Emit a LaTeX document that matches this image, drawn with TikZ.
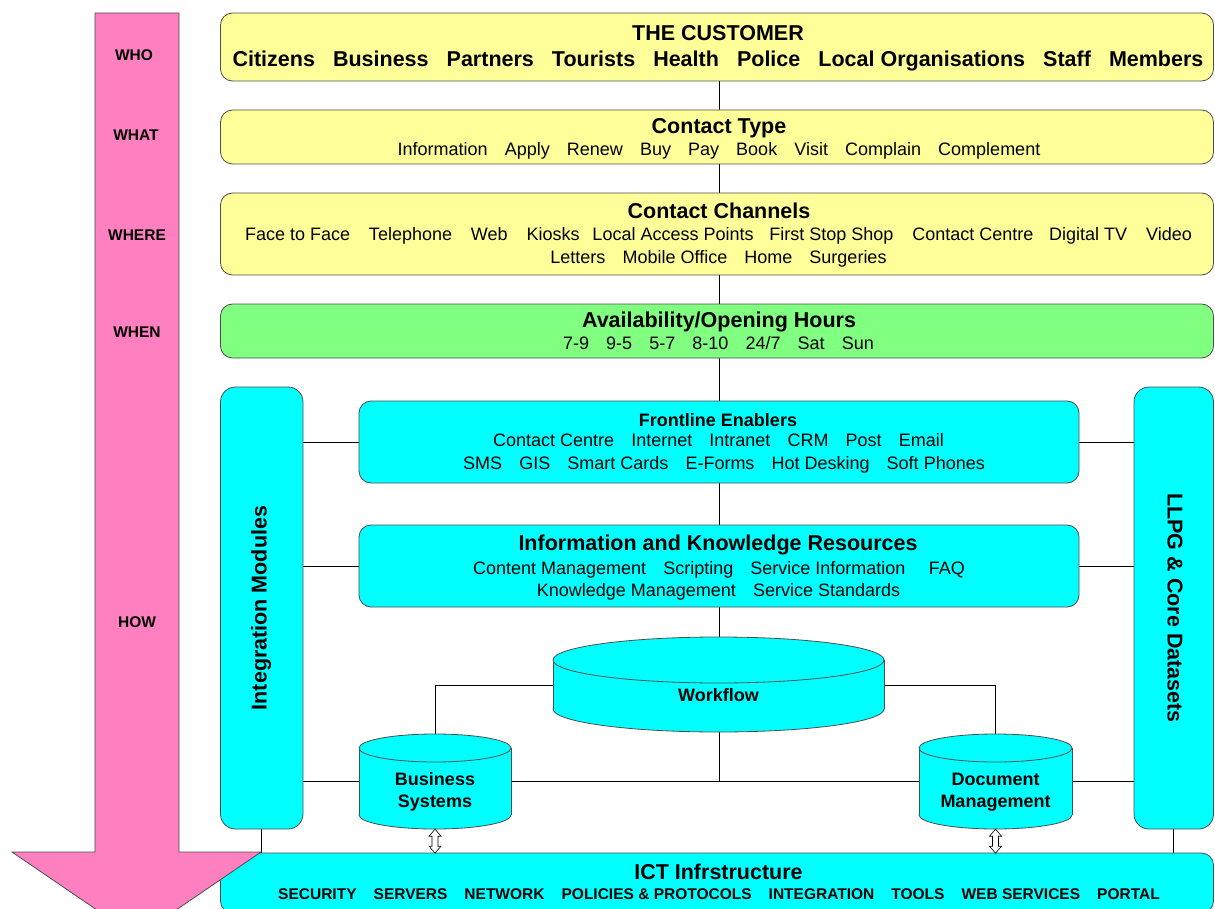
\documentclass[tikz,border=0pt]{standalone}
\usepackage{fontspec}
\setmainfont{Liberation Sans}
\usetikzlibrary{calc}
\pgfdeclarelayer{bg}
\pgfsetlayers{bg,main}
\definecolor{custyellow}{HTML}{FFFF99}
\definecolor{hoursgreen}{HTML}{80FF80}
\definecolor{ictcyan}{HTML}{00FFFF}
\definecolor{flowpink}{HTML}{FF80C0}
\definecolor{edgegray}{HTML}{4D4D4D}
% word gaps for regular and bold item lists
\newcommand\gp{\hspace{0.95em}}
\newcommand\gw{\hspace{1.05em}}
\newcommand\gb{\hspace{0.84em}}
% type sizes (1pt = 1 unit of the picture)
\newcommand\cHead{\fontsize{21.5}{23}\selectfont\bfseries}
\newcommand\cSub{\fontsize{18}{22}\selectfont\bfseries}
\newcommand\cItem{\fontsize{18}{23}\selectfont}
\newcommand\cSmall{\fontsize{15.5}{22}\selectfont\bfseries}
\begin{document}
\begin{tikzpicture}[x=1pt, y=-1pt,
  panel/.style={draw=edgegray, line width=0.8pt, rounded corners=12pt, inner sep=0pt},
  yellowpanel/.style={panel, fill=custyellow, minimum width=993},
  greenpanel/.style={panel, fill=hoursgreen, minimum width=993},
  cyanpanel/.style={panel, fill=ictcyan},
  sidepanel/.style={cyanpanel, rounded corners=15pt, minimum height=442},
  line/.style={inner sep=0pt, anchor=base},
  headline/.style={line, font=\cHead},
  subline/.style={line, font=\cSub},
  itemline/.style={line, font=\cItem},
  link/.style={draw=black, line width=0.7pt},
  cylpart/.style={fill=ictcyan, draw=edgegray, line width=0.8pt},
  anchorbox/.style={inner sep=0pt, draw=none},
  stagelabel/.style={line, font=\fontsize{15.5}{16}\selectfont\bfseries},
  portarrow/.style={fill=white, draw=black, line width=0.6pt, line join=miter}
]
\useasboundingbox (0,0) rectangle (1215,909);
\clip (0,0) rectangle (1215,909);

% ---- layered panels -------------------------------------------------
\node[yellowpanel, minimum height=68] (customer) at (717,47) {};
\node[headline] (customer-t) at (718,41) {THE CUSTOMER};
\node[headline] (customer-1) at (718,67)
  {Citizens\gb Business\gb Partners\gb Tourists\gb Health\gb Police\gb Local Organisations\gb Staff\gb Members};

\node[yellowpanel, minimum height=54] (ctype) at (717,137) {};
\node[headline] (ctype-t) at (719,133.5) {Contact Type};
\node[itemline] (ctype-1) at (719,155.5)
  {Information\gp Apply\gp Renew\gp Buy\gp Pay\gp Book\gp Visit\gp Complain\gp Complement};

\node[yellowpanel, minimum height=82] (channels) at (717,234) {};
\node[headline] (channels-t) at (719,218.5) {Contact Channels};
\node[itemline] (channels-1) at (718.5,241)
  {Face to Face\gw Telephone\gw Web\gw Kiosks\hspace{0.72em}Local Access Points\hspace{0.88em}First Stop Shop\gw Contact Centre\hspace{0.88em}Digital TV\gw Video};
\node[itemline] (channels-2) at (718.5,263.5) {Letters\gp Mobile Office\gp Home\gp Surgeries};

\node[greenpanel, minimum height=54] (hours) at (717,331) {};
\node[headline] (hours-t) at (719,327) {Availability/Opening Hours};
\node[itemline] (hours-1) at (718.5,349.5) {7-9\gp 9-5\gp 5-7\gp 8-10\gp 24/7\gp Sat\gp Sun};

\node[sidepanel, minimum width=82.5] (integ) at (261.75,608) {};
\node[rotate=90, inner sep=0pt, font=\cHead] (integlabel) at (261,608) {Integration Modules};

\node[sidepanel, minimum width=79.5] (llpg) at (1173.75,608) {};
\node[rotate=-90, inner sep=0pt, font=\cHead] (llpglabel) at (1175,608) {LLPG \& Core Datasets};

\node[cyanpanel, minimum width=720, minimum height=82] (frontline) at (719,442) {};
\node[subline] (frontline-t) at (718,426) {Frontline Enablers};
\node[itemline] (frontline-1) at (718.5,446.7) {Contact Centre\gp Internet\gp Intranet\gp CRM\gp Post\gp Email};
\node[itemline] (frontline-2) at (724,469.3) {SMS\gp GIS\gp Smart Cards\gp E-Forms\gp Hot Desking\gp Soft Phones};

\node[cyanpanel, minimum width=720, minimum height=82] (info) at (719,566) {};
\node[headline] (info-t) at (718,550.7) {Information and Knowledge Resources};
\node[itemline] (info-1) at (719,574) {Content Management\gp Scripting\gp Service Information\hspace{1.3em}FAQ};
\node[itemline] (info-2) at (718.5,596.7) {Knowledge Management\gp Service Standards};

\node[cyanpanel, minimum width=993, minimum height=60] (ict) at (717,883) {};
\node[headline] (ict-t) at (718.5,879.5) {ICT Infrstructure};
\node[line, font=\cSmall] (ict-1) at (719,899.5)
  {SECURITY\hspace{1.1em}SERVERS\hspace{1.1em}NETWORK\hspace{1.1em}POLICIES \& PROTOCOLS\hspace{1.1em}INTEGRATION\hspace{1.1em}TOOLS\hspace{1.1em}WEB SERVICES\hspace{1.1em}PORTAL};

% ---- cylinders ------------------------------------------------------
% Workflow
\path[cylpart] (718.5,709) ellipse [x radius=165.5, y radius=23];
\fill[ictcyan] (553,660) rectangle (884,709);
\draw[edgegray, line width=0.8pt] (553,660) -- (553,709) (884,660) -- (884,709);
\path[cylpart] (718.5,660) ellipse [x radius=165.5, y radius=23];
\node[anchorbox, minimum width=331, minimum height=94] (wf) at (718.5,685) {};
\node[subline] (wftext) at (718.5,701.5) {Workflow};

% Business Systems
\path[cylpart] (435,815) ellipse [x radius=76, y radius=14];
\fill[ictcyan] (359,748) rectangle (511,815);
\draw[edgegray, line width=0.8pt] (359,748) -- (359,815) (511,748) -- (511,815);
\path[cylpart] (435,748) ellipse [x radius=76, y radius=14];
\node[anchorbox, minimum width=152, minimum height=95] (bs) at (435,781.5) {};
\node[subline] (bstext-1) at (435,785.5) {Business};
\node[subline] (bstext-2) at (435,807.5) {Systems};

% Document Management
\path[cylpart] (995.5,815) ellipse [x radius=76.5, y radius=14];
\fill[ictcyan] (919,748) rectangle (1072,815);
\draw[edgegray, line width=0.8pt] (919,748) -- (919,815) (1072,748) -- (1072,815);
\path[cylpart] (995.5,748) ellipse [x radius=76.5, y radius=14];
\node[anchorbox, minimum width=153, minimum height=95] (dm) at (995.5,781.5) {};
\node[subline] (dmtext-1) at (995.5,785.5) {Document};
\node[subline] (dmtext-2) at (995.5,807.5) {Management};

% ---- connectors (behind the panels) ---------------------------------
\coordinate (hub) at (719,781);
\begin{pgfonlayer}{bg}
  \draw[link] (hub |- customer.south) -- (hub);
  \draw[link] (integ.east |- hub) -- (llpg.west |- hub);
  \draw[link] (integ.east |- frontline.west) -- (llpg.west |- frontline.east);
  \draw[link] (integ.east |- info.west) -- (llpg.west |- info.east);
  \draw[link] (wf.west) -| (bs.north);
  \draw[link] (wf.east) -| (dm.north);
  \draw[link] (integ.south) -- (integ.south |- ict.north);
  \draw[link] (llpg.south) -- (llpg.south |- ict.north);
\end{pgfonlayer}

% hollow two-way arrows between the systems and the ICT layer
\foreach \sys in {bs, dm} {
  \draw[portarrow] (\sys.south) -- ++(6,7) -- ++(-3,0) -- ++(0,10) -- ++(3,0)
    -- ++(-6,7) -- ++(-6,-7) -- ++(3,0) -- ++(0,-10) -- ++(-3,0) -- cycle;
}

% ---- WHO / WHAT / WHERE / WHEN / HOW arrow ---------------------------
\filldraw[fill=flowpink, draw=edgegray, line width=0.8pt]
  (95,13) -- (179,13) -- (179,852) -- (261,852) -- (136.5,937) -- (12,852) -- (95,852) -- cycle;
\node[stagelabel] (who) at (134,60.5) {WHO};
\node[stagelabel] (what) at (136,140.5) {WHAT};
\node[stagelabel] (where) at (137,240.5) {WHERE};
\node[stagelabel] (when) at (137,337.5) {WHEN};
\node[stagelabel] (how) at (137,627.5) {HOW};
\end{tikzpicture}
\end{document}
